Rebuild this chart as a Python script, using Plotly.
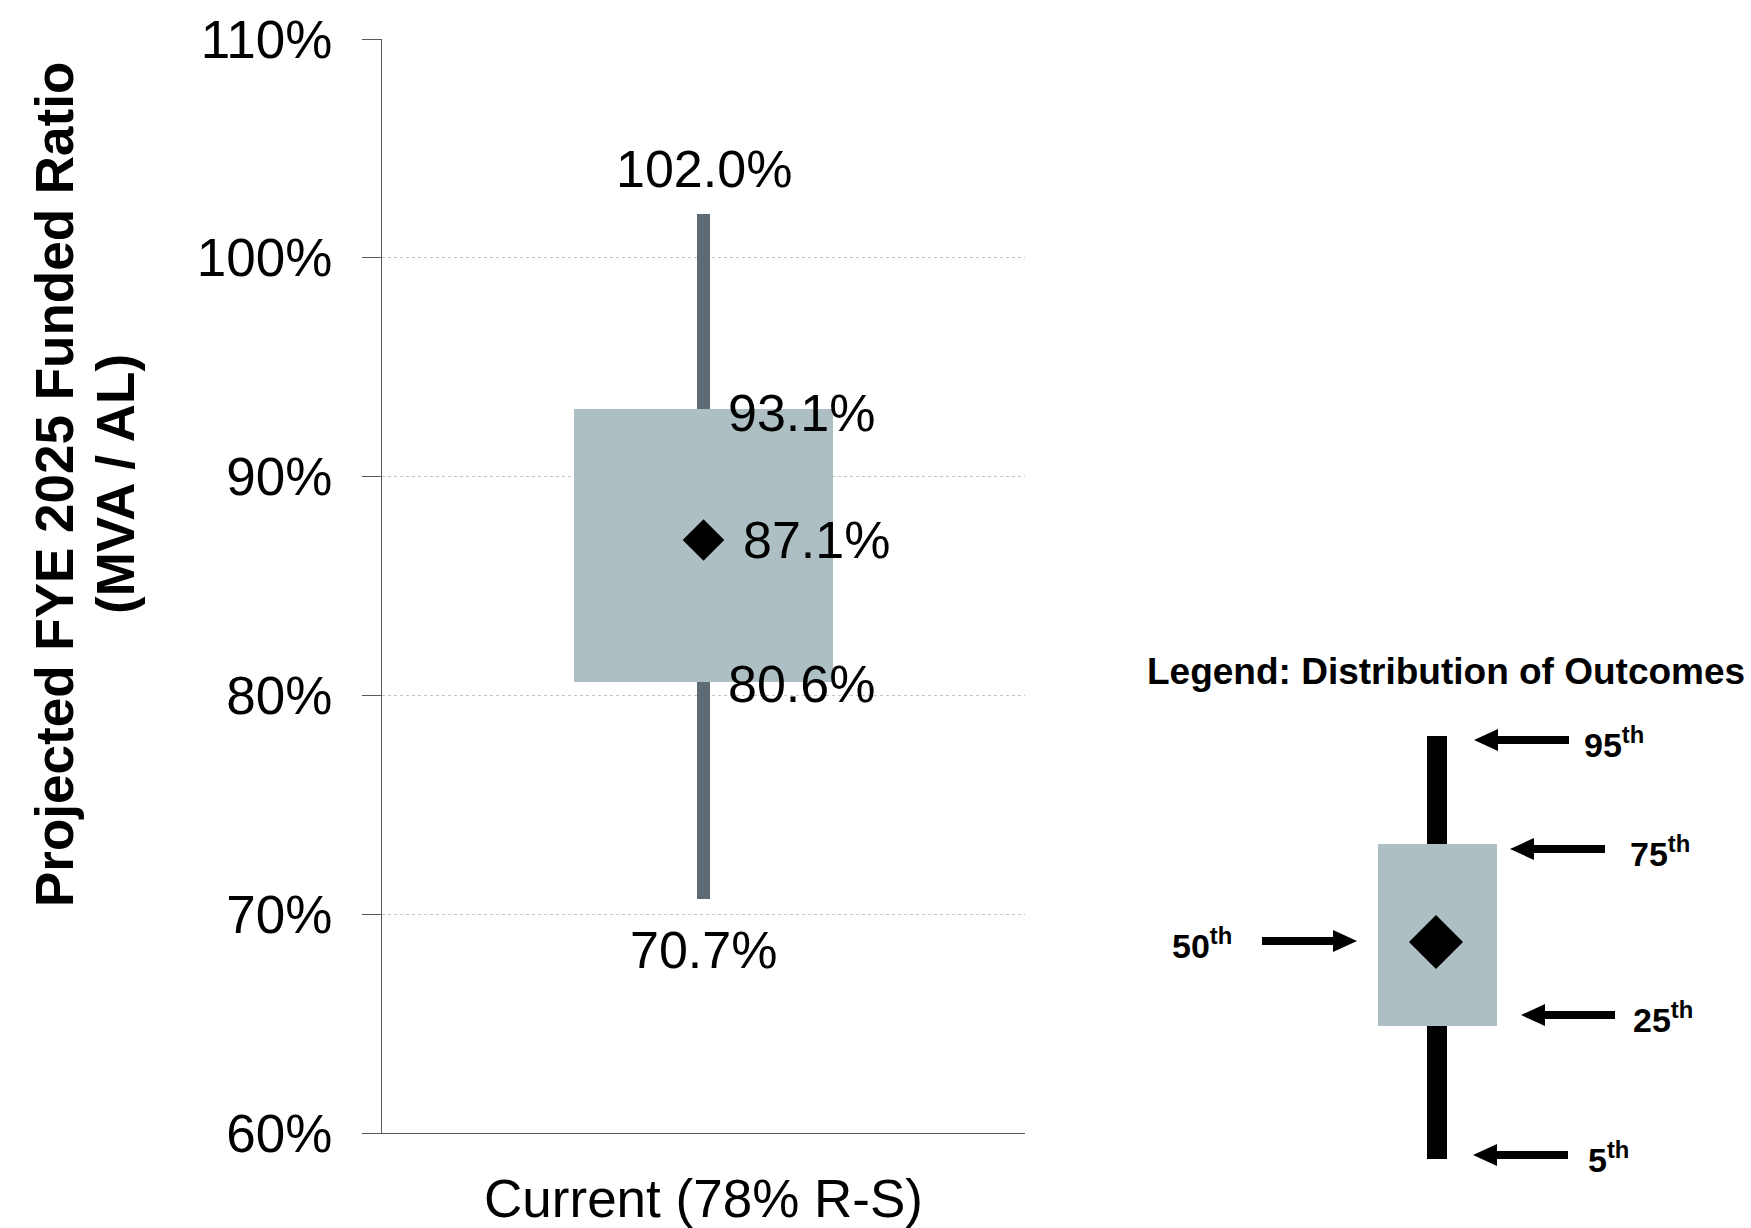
import plotly.graph_objects as go

# ---- data -------------------------------------------------------------
categories = ["Current (78% R-S)"]
p5 = [0.707]
p25 = [0.806]
p50 = [0.871]
p75 = [0.931]
p95 = [1.020]

y_ticks = [0.6, 0.7, 0.8, 0.9, 1.0, 1.1]
legend_title = "Legend: Distribution of Outcomes"
legend_labels = ["95", "75", "50", "25", "5"]

# ---- style ------------------------------------------------------------
W, H = 1751, 1228
L, R, T, B = 382, 1025, 39, 1133          # plot area in pixels
FONT = "Arial, Liberation Sans, sans-serif"
BOX_COLOR = "#adbfc3"
WHISKER_COLOR = "#5f6b74"
AXIS_COLOR = "#595959"


def px(x):
    return (x - L) / (R - L)


def py(y):
    return (B - y) / (B - T)


fig = go.Figure()

# whisker (5th to 95th percentile)
fig.add_trace(go.Bar(
    x=categories, y=[hi - lo for hi, lo in zip(p95, p5)], base=p5,
    width=0.021, marker=dict(color=WHISKER_COLOR, line=dict(width=0)),
    hoverinfo="skip", showlegend=False,
))
# interquartile box (25th to 75th percentile)
fig.add_trace(go.Bar(
    x=categories, y=[hi - lo for hi, lo in zip(p75, p25)], base=p25,
    width=0.403, marker=dict(color=BOX_COLOR, line=dict(width=0)),
    hoverinfo="skip", showlegend=False,
))
# median marker
fig.add_trace(go.Scatter(
    x=categories, y=p50, mode="markers",
    marker=dict(symbol="diamond", size=32, color="black", line=dict(width=0)),
    hoverinfo="skip", showlegend=False,
))

annotations = []
label_font = dict(family=FONT, size=52, color="black")
for i, c in enumerate(categories):
    annotations += [
        dict(x=c, y=p95[i], text=f"{p95[i]:.1%}", showarrow=False,
             xanchor="center", yanchor="middle", yshift=45, font=label_font),
        dict(x=c, y=p75[i], text=f"{p75[i]:.1%}", showarrow=False,
             xanchor="left", yanchor="middle", xshift=22, yshift=-4, font=label_font),
        dict(x=c, y=p50[i], text=f"{p50[i]:.1%}", showarrow=False,
             xanchor="left", yanchor="middle", xshift=37, yshift=0, font=label_font),
        dict(x=c, y=p25[i], text=f"{p25[i]:.1%}", showarrow=False,
             xanchor="left", yanchor="middle", xshift=22, yshift=-2, font=label_font),
        dict(x=c, y=p5[i], text=f"{p5[i]:.1%}", showarrow=False,
             xanchor="center", yanchor="middle", yshift=-51, font=label_font),
    ]

# y-axis title, two rotated lines
title_font = dict(family=FONT, size=53, color="black", weight="bold")
annotations += [
    dict(xref="paper", yref="paper", x=px(54), y=py(484),
         text="Projected FYE 2025 Funded Ratio", textangle=-90,
         showarrow=False, xanchor="center", yanchor="middle", font=title_font),
    dict(xref="paper", yref="paper", x=px(115), y=py(484),
         text="(MVA / AL)", textangle=-90,
         showarrow=False, xanchor="center", yanchor="middle", font=title_font),
]

# ---- legend key drawn beside the chart ----------------------------------
annotations.append(dict(
    xref="paper", yref="paper", x=px(1446), y=py(671), text=legend_title,
    showarrow=False, xanchor="center", yanchor="middle",
    font=dict(family=FONT, size=37, color="black", weight="bold"),
))

shapes = []
# key whisker, box and diamond
shapes.append(dict(type="rect", xref="paper", yref="paper",
                   x0=px(1427), x1=px(1447), y0=py(736), y1=py(1159),
                   fillcolor="black", line=dict(width=0), layer="above"))
shapes.append(dict(type="rect", xref="paper", yref="paper",
                   x0=px(1378), x1=px(1497), y0=py(844), y1=py(1026),
                   fillcolor=BOX_COLOR, line=dict(width=0), layer="above"))
cx, cy, r = 1436, 942, 27
shapes.append(dict(
    type="path", xref="paper", yref="paper",
    path=(f"M{px(cx)},{py(cy - r)} L{px(cx + r)},{py(cy)} "
          f"L{px(cx)},{py(cy + r)} L{px(cx - r)},{py(cy)} Z"),
    fillcolor="black", line=dict(width=0), layer="above"))

# arrows: (tip x, tail x, y, label x)
arrows = [
    (1474, 1569, 740, 1582),
    (1510, 1605, 849, 1628),
    (1357, 1262, 941, 1170),
    (1521, 1615, 1015, 1631),
    (1473, 1568, 1155, 1586),
]
HEAD_LEN, HEAD_HALF, SHAFT = 24, 11, 8
for (tip, tail, y, lx), lab in zip(arrows, legend_labels):
    d = 1 if tail > tip else -1
    base = tip + d * HEAD_LEN
    shapes.append(dict(type="line", xref="paper", yref="paper",
                       x0=px(base), x1=px(tail), y0=py(y), y1=py(y),
                       line=dict(color="black", width=SHAFT), layer="above"))
    shapes.append(dict(
        type="path", xref="paper", yref="paper",
        path=(f"M{px(tip)},{py(y)} L{px(base)},{py(y - HEAD_HALF)} "
              f"L{px(base)},{py(y + HEAD_HALF)} Z"),
        fillcolor="black", line=dict(width=0), layer="above"))
    annotations.append(dict(
        xref="paper", yref="paper", x=px(lx), y=py(y + 2),
        text=f"{lab}<sup>th</sup>", showarrow=False,
        xanchor="left", yanchor="middle",
        font=dict(family=FONT, size=34, color="black", weight="bold"),
    ))

fig.update_layout(
    template="none",
    width=W, height=H,
    margin=dict(l=L, r=W - R, t=T, b=H - B, pad=0, autoexpand=False),
    paper_bgcolor="white", plot_bgcolor="white",
    barmode="overlay", bargap=0,
    showlegend=False,
    annotations=annotations, shapes=shapes,
    font=dict(family=FONT, color="black"),
)
fig.update_xaxes(
    type="category", range=[-0.5, 0.5], automargin=False,
    showline=True, linecolor=AXIS_COLOR, linewidth=1,
    ticks="", showgrid=False, zeroline=False, ticklabelstandoff=19,
    tickfont=dict(family=FONT, size=53, color="black"),
)
fig.update_yaxes(
    range=[0.6, 1.1], tickvals=y_ticks, tickformat=".0%", automargin=False,
    showline=True, linecolor=AXIS_COLOR, linewidth=1,
    ticks="outside", ticklen=19, tickcolor=AXIS_COLOR, tickwidth=1,
    showgrid=True, gridcolor="#c4c4c4", gridwidth=1, griddash="dot",
    zeroline=False, ticklabelstandoff=19,
    tickfont=dict(family=FONT, size=53, color="black"),
)

fig.write_html("out.html")
